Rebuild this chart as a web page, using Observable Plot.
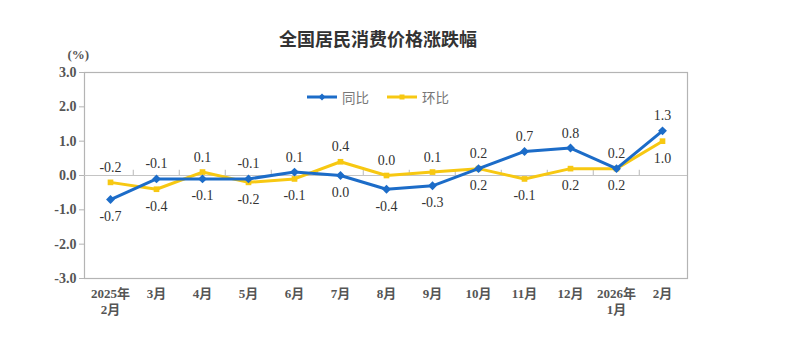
<!DOCTYPE html>
<html>
<head>
<meta charset="utf-8">
<script src="https://cdn.jsdelivr.net/npm/d3@7"></script>
<script src="https://cdn.jsdelivr.net/npm/@observablehq/plot@0.6"></script>
<style>
  html, body { margin: 0; padding: 0; background: #fff; }
  #wrap { position: relative; width: 792px; height: 357px; }
  #legend { position: absolute; left: 307px; top: 87px; display: flex; align-items: center;
            font-family: "Noto Sans CJK SC", sans-serif; font-size: 13.5px; color: #777; }
  #legend .item { display: flex; align-items: center; margin-right: 18px; }
  #legend svg { margin-right: 5px; }
</style>
</head>
<body>
<div id="wrap"><div id="legend"></div></div>
<script>
const title = "全国居民消费价格涨跌幅";
const unitLabel = "(%)";
const months = ["2025年\n2月", "3月", "4月", "5月", "6月", "7月", "8月", "9月", "10月", "11月", "12月", "2026年\n1月", "2月"];
const seriesNames = ["同比", "环比"];
const yoy = [-0.7, -0.1, -0.1, -0.1, 0.1, 0.0, -0.4, -0.3, 0.2, 0.7, 0.8, 0.2, 1.3];
const mom = [-0.2, -0.4, 0.1, -0.2, -0.1, 0.4, 0.0, 0.1, 0.2, -0.1, 0.2, 0.2, 1.0];
const yoyLabelPos = ["below", "above", "below", "above", "above", "below", "below", "below", "above", "above", "above", "above", "above"];
const momLabelPos = ["above", "below", "above", "below", "below", "above", "above", "above", "below", "below", "below", "below", "below"];
const yTicks = [-3, -2, -1, 0, 1, 2, 3];

const blue = "#1c6cc8";
const yellow = "#f7c812";
const W = 792, H = 357, mL = 84, mR = 105, mT = 72, mB = 79;
const step = (W - mL - mR) / months.length;

const rows = months.map((m, i) => ({month: m, yoy: yoy[i], mom: mom[i], yp: yoyLabelPos[i], mp: momLabelPos[i]}));
const fmt = d => d.toFixed(1);
const serif = "'Liberation Serif', 'Noto Sans CJK SC', serif";

const chart = Plot.plot({
  width: W, height: H,
  marginLeft: mL, marginRight: mR, marginTop: mT, marginBottom: mB,
  style: {fontFamily: serif, background: "#fff", overflow: "visible"},
  x: {type: "point", domain: months, padding: 0.5, axis: null},
  y: {domain: [-3, 3], axis: null},
  marks: [
    Plot.frame({stroke: "#b4b4b4", strokeWidth: 1.2}),
    Plot.ruleY([0], {stroke: "#c4c4c4", strokeWidth: 1.2}),
    Plot.ruleX(months.slice(1), {x: d => d, y1: 0, y2: 0.15, dx: -step / 2, stroke: "#c4c4c4", strokeWidth: 1.2}),
    Plot.axisY({ticks: yTicks, tickFormat: fmt, tickSize: 5, tickPadding: 3, stroke: "#b4b4b4",
                fontSize: 14, fontWeight: "bold", fill: "#555", label: null}),
    Plot.axisX({tickSize: 0, tickPadding: 7, fontSize: 13, fontWeight: "bold", fill: "#555",
                lineHeight: 1.3, label: null}),
    Plot.text([unitLabel], {frameAnchor: "top-left", dx: -17, dy: -23, fontSize: 13, fontWeight: "bold", fill: "#555"}),
    Plot.text([title], {frameAnchor: "top", dx: -8, dy: -39, fontSize: 18, fontWeight: "bold",
                        fill: "#333", fontFamily: "'Noto Sans CJK SC', sans-serif"}),
    Plot.line(rows, {x: "month", y: "mom", stroke: yellow, strokeWidth: 3}),
    Plot.dot(rows, {x: "month", y: "mom", symbol: "square", r: 3.2, fill: yellow}),
    Plot.line(rows, {x: "month", y: "yoy", stroke: blue, strokeWidth: 3}),
    Plot.dot(rows, {x: "month", y: "yoy", symbol: "diamond2", r: 4, fill: blue}),
    Plot.text(rows.filter(d => d.yp === "above"), {x: "month", y: "yoy", text: d => fmt(d.yoy), dy: -15, fontSize: 14, fill: "#333"}),
    Plot.text(rows.filter(d => d.yp === "below"), {x: "month", y: "yoy", text: d => fmt(d.yoy), dy: 17, fontSize: 14, fill: "#333"}),
    Plot.text(rows.filter(d => d.mp === "above"), {x: "month", y: "mom", text: d => fmt(d.mom), dy: -15, fontSize: 14, fill: "#333"}),
    Plot.text(rows.filter(d => d.mp === "below"), {x: "month", y: "mom", text: d => fmt(d.mom), dy: 17, fontSize: 14, fill: "#333"})
  ]
});
const wrap = document.getElementById("wrap");
wrap.insertBefore(chart, wrap.firstChild);

const legend = document.getElementById("legend");
const colors = [blue, yellow];
seriesNames.forEach((name, i) => {
  const item = document.createElement("div");
  item.className = "item";
  const marker = i === 0
    ? `<path d="M15 -3.5 L18.5 0 L15 3.5 L11.5 0 Z" fill="${colors[i]}"/>`
    : `<rect x="12.5" y="-2.5" width="5" height="5" fill="${colors[i]}"/>`;
  item.innerHTML = `<svg width="30" height="10" viewBox="0 -5 30 10"><line x1="0" y1="0" x2="30" y2="0" stroke="${colors[i]}" stroke-width="3"/>${marker}</svg><span>${name}</span>`;
  legend.appendChild(item);
});
</script>
</body>
</html>
